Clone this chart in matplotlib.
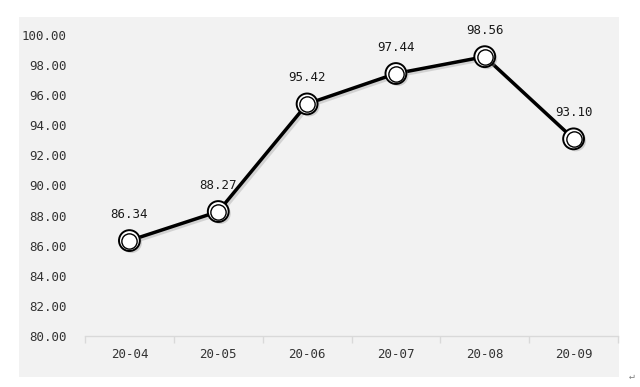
import matplotlib
matplotlib.use("Agg")
import matplotlib.pyplot as plt
import matplotlib.patheffects as pe
from matplotlib.patches import Rectangle
from matplotlib.ticker import FixedLocator

plt.rcParams['font.family'] = ['DejaVu Sans Mono', 'Noto Sans CJK SC', 'DejaVu Sans']

categories = ["20-04", "20-05", "20-06", "20-07", "20-08", "20-09"]
values = [86.34, 88.27, 95.42, 97.44, 98.56, 93.10]
y_ticks = [80, 82, 84, 86, 88, 90, 92, 94, 96, 98, 100]

W, H = 640, 387
fig = plt.figure(figsize=(W / 100, H / 100), dpi=100, facecolor='white')
fig.patches.append(Rectangle((19 / W, 10 / H), 600 / W, 360 / H,
                             transform=fig.transFigure, facecolor='#f2f2f2',
                             edgecolor='none', zorder=-5))

ax = fig.add_axes([85 / W, (H - 336) / H, 533 / W, 301 / H])
ax.set_zorder(2)
ax.set_facecolor('none')
x = list(range(len(categories)))

shadow = [pe.SimpleLineShadow(offset=(1.5, -1.5), shadow_color='#999999', alpha=0.35), pe.Normal()]
ax.plot(x, values, color='black', lw=2.5, zorder=3, path_effects=shadow, solid_capstyle='round')
ax.plot(x, values, 'o', ms=15, mfc='white', mec='black', mew=1.4, zorder=4,
        path_effects=[pe.SimplePatchShadow(offset=(1.5, -1.5), shadow_rgbFace='#999999', alpha=0.4), pe.Normal()])
ax.plot(x, values, 'o', ms=11, mfc='white', mec='black', mew=1.0, zorder=5)

for xi, v in zip(x, values):
    ax.annotate(f"{v:.2f}", (xi, v), xytext=(0, 19), textcoords='offset points',
                ha='center', va='center', fontsize=9, color='#1a1a1a')

ax.set_xlim(-0.5, len(categories) - 0.5)
ax.set_ylim(80, 100)
ax.set_yticks(y_ticks)
ax.set_yticklabels([f"{t:.2f}" for t in y_ticks], fontsize=9, color='#333333')
ax.set_xticks(x)
ax.set_xticklabels(categories, fontsize=9, color='#333333')
ax.xaxis.set_minor_locator(FixedLocator([i - 0.5 for i in range(len(categories) + 1)]))
ax.tick_params(axis='x', which='major', length=0, pad=9)
ax.tick_params(axis='x', which='minor', length=5, color='#d9d9d9', width=1)
ax.tick_params(axis='y', length=0, pad=13)
for s in ['top', 'right', 'left']:
    ax.spines[s].set_visible(False)
ax.spines['bottom'].set_color('#d9d9d9')
ax.spines['bottom'].set_linewidth(1)

fig.text(632 / W, (H - 376) / H, "↵", fontsize=7, color='#808080', ha='center', va='center')

fig.savefig("out.png", dpi=100, facecolor='white')
